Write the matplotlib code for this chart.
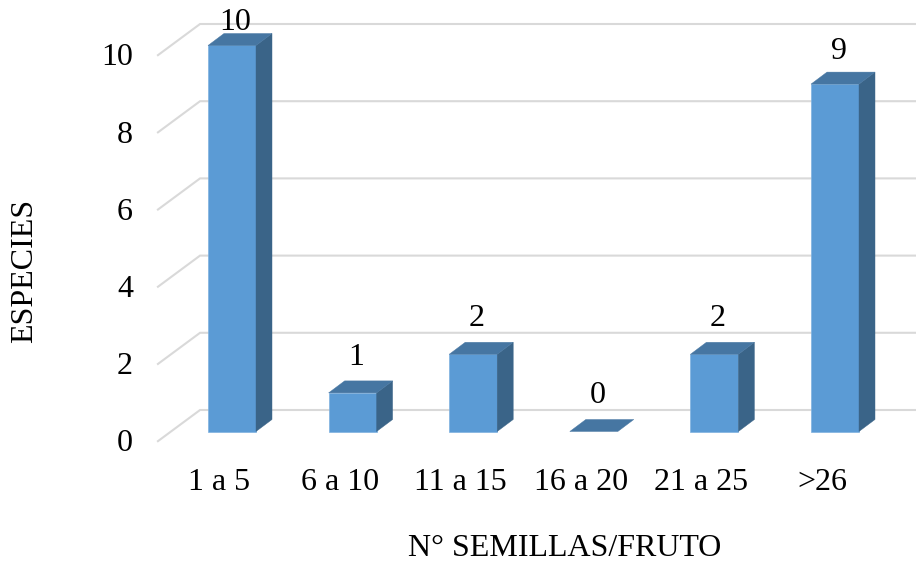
import numpy as np
import matplotlib
matplotlib.use("Agg")
import matplotlib.pyplot as plt
from matplotlib.patches import Polygon

categories = ["1 a 5", "6 a 10", "11 a 15", "16 a 20", "21 a 25", ">26"]
species = [10, 1, 2, 0, 2, 9]
y_ticks = [0, 2, 4, 6, 8, 10]

X_LABEL = "N° SEMILLAS/FRUTO"
Y_LABEL = "ESPECIES"

FRONT = "#5b9bd5"
TOP = "#4676a2"
SIDE = "#3a6488"
GRID = "#d9d9d9"

# pixels per data unit, used to fix the axes limits
PX_X = 120.6
PX_Y = 38.6
WIDTH, HEIGHT = 916, 561

# depth of a bar and of the wall, in data units
BAR_W = 0.398
DEPTH_X = 0.1327
DEPTH_Y = 0.311


def draw_bar(ax, i, v):
    """Draw one extruded bar: front, side and top faces."""
    left, right = i - BAR_W / 2, i + BAR_W / 2
    if v > 0:
        ax.add_patch(Polygon([(left, 0), (right, 0), (right, v), (left, v)],
                             fc=FRONT, ec="#7fb2e0", lw=0.5, zorder=3))
        ax.add_patch(Polygon([(right, 0), (right + DEPTH_X, DEPTH_Y),
                              (right + DEPTH_X, v + DEPTH_Y), (right, v)],
                             fc=SIDE, ec=SIDE, lw=0.3, zorder=3))
    ax.add_patch(Polygon([(left, v), (right, v), (right + DEPTH_X, v + DEPTH_Y),
                          (left + DEPTH_X, v + DEPTH_Y)],
                         fc=TOP, ec=TOP, lw=0.3, zorder=3))


def main():
    plt.rcParams["font.family"] = ["Liberation Serif", "DejaVu Serif"]
    fig = plt.figure(figsize=(WIDTH / 100, HEIGHT / 100), dpi=100)
    ax = fig.add_axes([0, 0, 1, 1])
    ax.set_xlim(-232 / PX_X, (WIDTH - 232) / PX_X)
    ax.set_ylim(-(HEIGHT - 431.5) / PX_Y, 431.5 / PX_Y)
    ax.axis("off")

    # wall gridlines with the short diagonal on the floor side
    for t in y_ticks:
        back = t + 0.557
        ax.plot([-0.614, -0.265, 10], [t - 0.25, back, back],
                color=GRID, lw=1.5, zorder=1, solid_joinstyle="miter")
        ax.text(-0.82, t - 0.32, str(t), ha="right", va="center", fontsize=23, color="black")

    for i, (name, v) in enumerate(zip(categories, species)):
        draw_bar(ax, i, v)
        # value labels sit above the bar, the tallest one pressed against the top
        offset = 0.84 if v == 9 else 0.93
        ax.text(i + 0.03, min(v + offset, 10.6), str(v), ha="center", va="center",
                fontsize=23, color="black", zorder=4)
        ax.text(i - 0.108, -1.32, name, ha="center", va="center", fontsize=23, color="black")

    fig.text(565 / WIDTH, 1 - 548 / HEIGHT, X_LABEL, ha="center", va="center", fontsize=23)
    fig.text(25 / WIDTH, 1 - 271 / HEIGHT, Y_LABEL, ha="center", va="center",
             rotation=90, fontsize=23)

    fig.savefig("out.png", dpi=100)


if __name__ == "__main__":
    main()
